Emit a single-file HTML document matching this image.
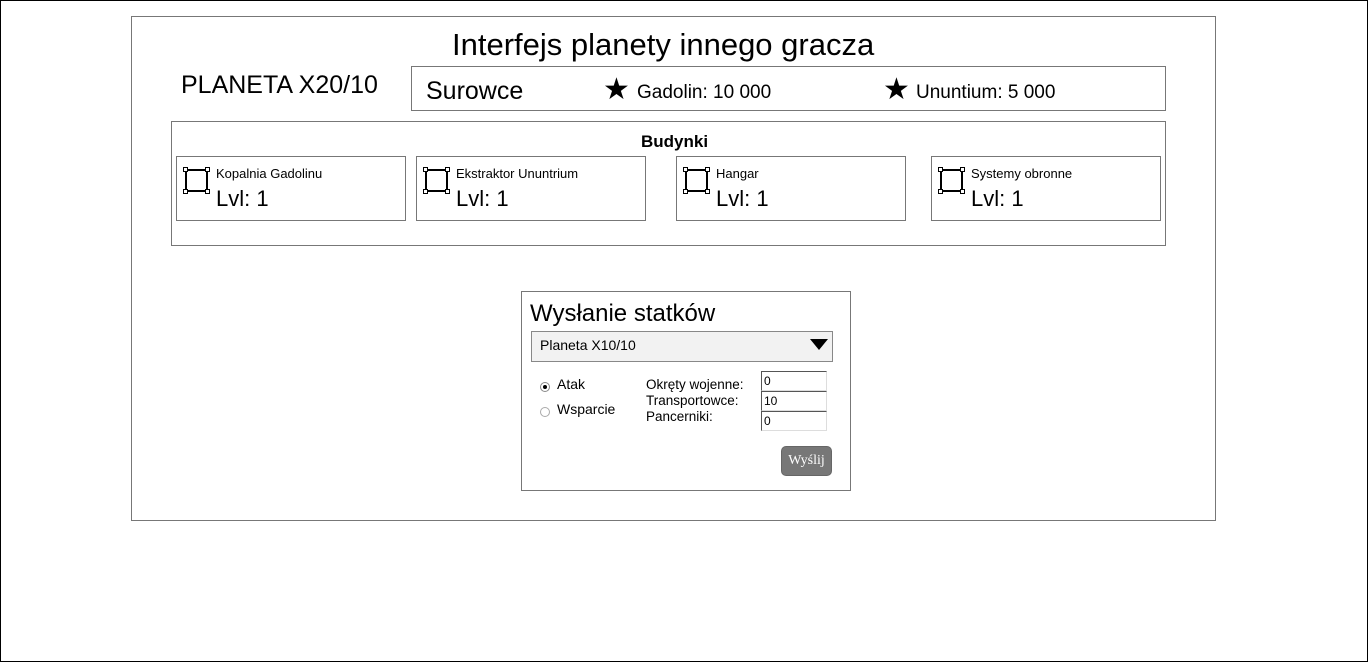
<!DOCTYPE html>
<html><head><meta charset="utf-8"><style>
*{margin:0;padding:0;box-sizing:border-box}
body{width:1368px;height:662px;position:relative;background:#fff;font-family:"Liberation Sans",sans-serif;color:#000;overflow:hidden}
div,span{position:absolute;white-space:nowrap}
.b{border:1px solid #777}
.t{line-height:1}
.ic{width:23px;height:23px;border:2px solid #000}
.ic i{position:absolute;width:5px;height:5px;border:1px solid #000;background:#fff}
.in{width:66px;height:20px;border-top:1px solid #555;border-left:1px solid #555;border-right:1px solid #ddd;border-bottom:1px solid #ddd;font-size:12px;padding:1px 2px;line-height:16px}
</style></head><body>
<div style="left:0;top:0;width:1368px;height:662px;border:1px solid #000"></div>
<div class="b" style="left:131px;top:16px;width:1085px;height:505px"></div>
<div class="t" style="left:452px;top:29px;font-size:31px">Interfejs planety innego gracza</div>
<div class="t" style="left:181px;top:73px;font-size:25px">PLANETA X20/10</div>
<div class="b" style="left:411px;top:66px;width:755px;height:45px"></div>
<div class="t" style="left:426px;top:79px;font-size:25px">Surowce</div>
<div class="t" style="left:603px;top:75px;font-size:30px">★</div>
<div class="t" style="left:637px;top:83px;font-size:19px">Gadolin: 10 000</div>
<div class="t" style="left:883px;top:75px;font-size:30px">★</div>
<div class="t" style="left:916px;top:83px;font-size:19px">Ununtium: 5 000</div>
<div class="b" style="left:171px;top:121px;width:995px;height:125px"></div>
<div class="t" style="left:641px;top:133px;font-size:17px;font-weight:bold">Budynki</div>

<div class="b" style="left:176px;top:156px;width:230px;height:65px"></div>
<div class="ic" style="left:185px;top:169px"><i style="left:-4px;top:-4px"></i><i style="right:-4px;top:-4px"></i><i style="left:-4px;bottom:-4px"></i><i style="right:-4px;bottom:-4px"></i></div>
<div class="t" style="left:216px;top:167px;font-size:13px">Kopalnia Gadolinu</div>
<div class="t" style="left:216px;top:188px;font-size:22px">Lvl: 1</div>

<div class="b" style="left:416px;top:156px;width:230px;height:65px"></div>
<div class="ic" style="left:425px;top:169px"><i style="left:-4px;top:-4px"></i><i style="right:-4px;top:-4px"></i><i style="left:-4px;bottom:-4px"></i><i style="right:-4px;bottom:-4px"></i></div>
<div class="t" style="left:456px;top:167px;font-size:13px">Ekstraktor Ununtrium</div>
<div class="t" style="left:456px;top:188px;font-size:22px">Lvl: 1</div>

<div class="b" style="left:676px;top:156px;width:230px;height:65px"></div>
<div class="ic" style="left:685px;top:169px"><i style="left:-4px;top:-4px"></i><i style="right:-4px;top:-4px"></i><i style="left:-4px;bottom:-4px"></i><i style="right:-4px;bottom:-4px"></i></div>
<div class="t" style="left:716px;top:167px;font-size:13px">Hangar</div>
<div class="t" style="left:716px;top:188px;font-size:22px">Lvl: 1</div>

<div class="b" style="left:931px;top:156px;width:230px;height:65px"></div>
<div class="ic" style="left:940px;top:169px"><i style="left:-4px;top:-4px"></i><i style="right:-4px;top:-4px"></i><i style="left:-4px;bottom:-4px"></i><i style="right:-4px;bottom:-4px"></i></div>
<div class="t" style="left:971px;top:167px;font-size:13px">Systemy obronne</div>
<div class="t" style="left:971px;top:188px;font-size:22px">Lvl: 1</div>

<div class="b" style="left:521px;top:291px;width:330px;height:200px"></div>
<div class="t" style="left:530px;top:302px;font-size:24px">Wysłanie statków</div>
<div style="left:531px;top:331px;width:302px;height:31px;border:1px solid #888;background:#f2f2f2"></div>
<div class="t" style="left:540px;top:338px;font-size:14px">Planeta X10/10</div>
<div style="left:810px;top:339px;width:0;height:0;border-left:9px solid transparent;border-right:9px solid transparent;border-top:11px solid #000"></div>
<div style="left:540px;top:382px;width:10px;height:10px;border-radius:50%;border:1px solid #888"><span style="left:2px;top:2px;width:4px;height:4px;border-radius:50%;background:#000"></span></div>
<div class="t" style="left:557px;top:377px;font-size:14px">Atak</div>
<div style="left:540px;top:407px;width:10px;height:10px;border-radius:50%;border:1px solid #aaa"></div>
<div class="t" style="left:557px;top:402px;font-size:14px">Wsparcie</div>
<div class="t" style="left:646px;top:378px;font-size:13.5px">Okręty wojenne:</div>
<div class="t" style="left:646px;top:394px;font-size:13.5px">Transportowce:</div>
<div class="t" style="left:646px;top:410px;font-size:13.5px">Pancerniki:</div>
<div class="in" style="left:761px;top:371px">0</div>
<div class="in" style="left:761px;top:391px">10</div>
<div class="in" style="left:761px;top:411px">0</div>
<div style="left:781px;top:446px;width:51px;height:30px;background:#777;border:1px solid #666;border-radius:5px;color:#fff;font-family:'Liberation Serif',serif;font-size:14px;text-align:center;line-height:28px">Wyślij</div>
</body></html>
